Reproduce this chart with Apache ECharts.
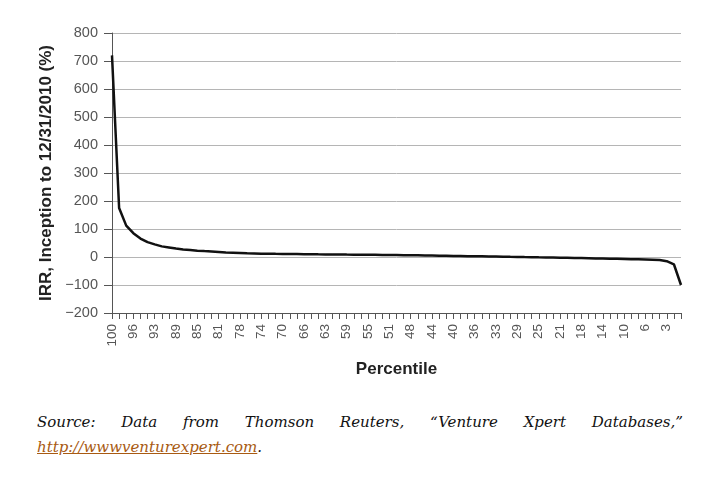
<!DOCTYPE html>
<html>
<head>
<meta charset="utf-8">
<script src="https://cdn.jsdelivr.net/npm/echarts@6/dist/echarts.min.js"></script>
<style>
  body { margin: 0; background: #fff; }
  #irrChart { position: absolute; left: 0; top: 0; width: 718px; height: 400px; }
  #source {
    position: absolute; left: 37px; top: 410px; width: 646px;
    font: italic 15px "DejaVu Serif", serif; line-height: 25px;
    text-align: justify; color: #111; margin: 0;
  }
  #source a { color: #a85a12; text-decoration: underline; }
</style>
</head>
<body>
<div id="irrChart"></div>
<p id="source">Source: Data from Thomson Reuters, “Venture Xpert Databases,” <a>http://wwwventurexpert.com</a>.</p>
<script>
// percentile categories (step 1.25, rounded as printed)
const percentiles = ['100', '99', '98', '96', '95', '94', '93', '91', '90', '89',
  '88', '86', '85', '84', '83', '81', '80', '79', '78', '76',
  '75', '74', '73', '71', '70', '69', '68', '66', '65', '64',
  '63', '61', '60', '59', '58', '56', '55', '54', '53', '51',
  '50', '49', '48', '46', '45', '44', '43', '41', '40', '39',
  '38', '36', '35', '34', '33', '31', '30', '29', '28', '26',
  '25', '24', '23', '21', '20', '19', '18', '16', '15', '14',
  '13', '11', '10', '9', '8', '6', '5', '4', '3', '1', '0']

// IRR in %
const irr = [720, 175, 112, 85, 66, 53, 45, 38, 34, 30,
  27, 25, 22.6, 21, 19.5, 18, 16, 15, 14, 13,
  12.5, 12, 11.6, 11.2, 10.9, 10.6, 10.3, 10, 9.8, 9.5,
  9.3, 9.1, 8.9, 8.6, 8.4, 8.2, 8, 7.7, 7.4, 7.1,
  6.8, 6.5, 6.2, 5.9, 5.5, 5.1, 4.7, 4.3, 3.9, 3.5,
  3.1, 2.7, 2.3, 1.9, 1.5, 1.1, 0.6, 0.2, -0.3, -0.7,
  -1.2, -1.6, -2.1, -2.6, -3, -3.5, -4, -4.5, -5, -5.5,
  -6, -6.5, -7, -7.6, -8.2, -8.8, -9.6, -11, -15, -26, -100]

const yMin = -200
const yMax = 800
const yStep = 100

let myChart = echarts.init(document.getElementById('irrChart'))
myChart.setOption({
  animation: false,
  grid: {
    left: 112,
    right: 37,
    top: 33,
    bottom: 87
  },
  xAxis: {
    type: 'category',
    boundaryGap: false,
    data: percentiles,
    name: 'Percentile',
    nameLocation: 'middle',
    nameGap: 48,
    nameTextStyle: {
      fontFamily: 'Liberation Sans',
      fontWeight: 'bold',
      fontSize: 17,
      color: '#222'
    },
    axisLine: {onZero: false, lineStyle: {color: '#555', width: 1}},
    axisTick: {show: true, interval: 0, length: 6, lineStyle: {color: '#555'}},
    axisLabel: {
      interval: 2,
      rotate: 90,
      margin: 11,
      fontFamily: 'Liberation Sans',
      fontSize: 13.5,
      color: '#555'
    },
    splitLine: {show: false}
  },
  yAxis: {
    type: 'value',
    min: yMin,
    max: yMax,
    interval: yStep,
    name: 'IRR, Inception to 12/31/2010 (%)',
    nameLocation: 'middle',
    nameGap: 56,
    nameTextStyle: {
      fontFamily: 'Liberation Sans',
      fontWeight: 'bold',
      fontSize: 17,
      color: '#222'
    },
    axisLine: {show: true, lineStyle: {color: '#555', width: 1}},
    axisTick: {show: true, length: 8, lineStyle: {color: '#555'}},
    axisLabel: {
      margin: 14,
      fontFamily: 'Liberation Sans',
      fontSize: 14.5,
      color: '#555',
      formatter: v => String(v).replace('-', '\u2212')
    },
    splitLine: {show: true, lineStyle: {color: '#b5b5b5', width: 1}}
  },
  series: [
    {
      type: 'line',
      data: irr,
      symbol: 'none',
      lineStyle: {color: '#111', width: 2.5}
    }
  ]
})
</script>
</body>
</html>
